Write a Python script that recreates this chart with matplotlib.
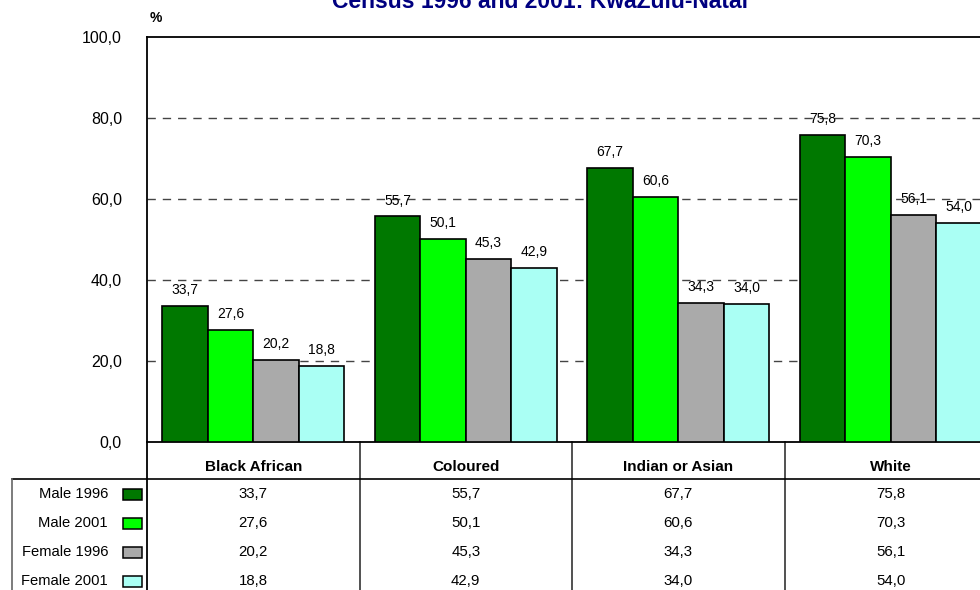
import numpy as np
import matplotlib
matplotlib.use("Agg")
from matplotlib import pyplot as plt
from matplotlib.patches import Rectangle

plt.rcParams['font.family'] = ['Liberation Sans', 'DejaVu Sans']

title = "Census 1996 and 2001: KwaZulu-Natal"
groups = ["Black African", "Coloured", "Indian or Asian", "White"]
series = ["Male 1996", "Male 2001", "Female 1996", "Female 2001"]
male_1996 = [33.7, 55.7, 67.7, 75.8]
male_2001 = [27.6, 50.1, 60.6, 70.3]
female_1996 = [20.2, 45.3, 34.3, 56.1]
female_2001 = [18.8, 42.9, 34.0, 54.0]
values = [male_1996, male_2001, female_1996, female_2001]
colors = ["#007800", "#00FF00", "#AAAAAA", "#AAFFF4"]
yticks = [0, 20, 40, 60, 80, 100]

def fmt(v):
    return ("%.1f" % v).replace(".", ",")

fig = plt.figure(figsize=(9.8, 5.9), dpi=100)

# pixel helper axes for the table under the chart
tab = fig.add_axes([0, 0, 1, 1], zorder=0)
tab.set_xlim(0, 980)
tab.set_ylim(590, 0)
tab.axis("off")

# main chart axes (right edge runs off the picture like the original)
left, top, bot = 147, 37, 442
gw = 212.5
ax = fig.add_axes([left / 980, (590 - bot) / 590, 4 * gw / 980, (bot - top) / 590], zorder=1)
ax.set_facecolor("none")

x = np.arange(len(groups)) + 0.5
bw = 45.5 / gw
for k in range(len(series)):
    xs = x + (k - 1.5) * bw
    ax.bar(xs, values[k], width=bw, color=colors[k], edgecolor="black", linewidth=1.2, zorder=3)
    for xi, v in zip(xs, values[k]):
        ax.text(xi, v + 2.2, fmt(v), ha="center", va="bottom", fontsize=10, zorder=4)

ax.set_xlim(0, 4)
ax.set_ylim(0, 100)
ax.set_yticks(yticks)
ax.set_yticklabels([fmt(t) for t in yticks], fontsize=11.5)
ax.set_xticks([])
ax.tick_params(axis="y", length=0, pad=18)
for t in yticks[1:-1]:
    ax.axhline(t, color="#444444", linestyle=(0, (6, 5)), linewidth=1, zorder=1)
for s in ["left", "top", "bottom"]:
    ax.spines[s].set_linewidth(1.3)
ax.spines["right"].set_visible(False)

ax.text(0.003, 1.03, "%", transform=ax.transAxes, fontsize=10, fontweight="bold", ha="left", va="bottom")
# title is cropped at the top edge in the original
fig.text(540 / 980, 1 - 7.5 / 590, title, ha="center", va="baseline", fontsize=16.5,
         fontweight="bold", color="#000080")

# table grid
tab.plot([left, left], [bot, 590], color="black", linewidth=1.3)
for i in range(1, 4):
    xv = left + i * gw
    tab.plot([xv, xv], [bot, 590], color="#333333", linewidth=1.2)
tab.plot([12, 980], [479, 479], color="black", linewidth=1.2)
tab.plot([12, 12], [479, 590], color="#666666", linewidth=1.2)

for i, g in enumerate(groups):
    tab.text(left + (i + 0.5) * gw, 467, g, ha="center", va="center", fontsize=11, fontweight="bold")

row_y = [494, 523, 552, 581]
for k, name in enumerate(series):
    y = row_y[k]
    tab.text(108, y, name, ha="right", va="center", fontsize=10.6)
    tab.add_patch(Rectangle((123, y - 5.5), 19, 11, facecolor=colors[k], edgecolor="black", linewidth=1.1))
    for i, v in enumerate(values[k]):
        tab.text(left + (i + 0.5) * gw, y, fmt(v), ha="center", va="center", fontsize=10.8)

fig.savefig("out.png", dpi=100)
